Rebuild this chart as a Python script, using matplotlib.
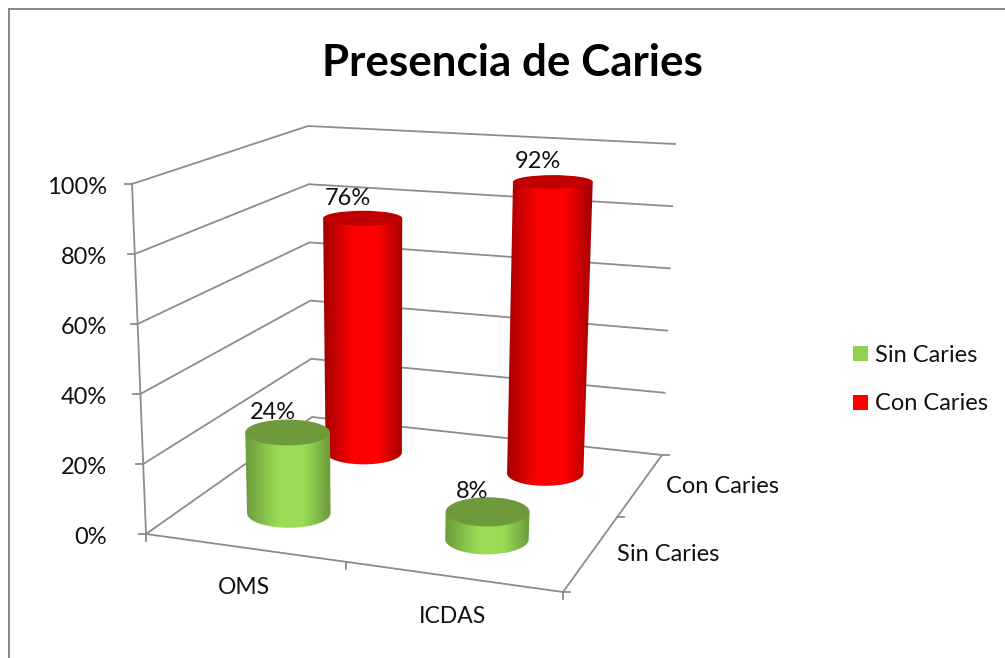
import matplotlib
matplotlib.use('Agg')
import matplotlib.pyplot as plt
from matplotlib.patches import Polygon, Ellipse, Rectangle
from matplotlib.colors import LinearSegmentedColormap
import numpy as np

categories = ['OMS', 'ICDAS']
series = ['Sin Caries', 'Con Caries']
sin_caries = [24, 8]
con_caries = [76, 92]
pct_ticks = [0, 20, 40, 60, 80, 100]

plt.rcParams['font.family'] = ['Lato', 'DejaVu Sans']

GRID = '#8c8c8c'
TEXT = '#111111'
COLORS = {
    'Sin Caries': dict(legend='#92D050', top='#6F9A3C', edge='#6C9B3C', mid='#9ADB55'),
    'Con Caries': dict(legend='#FF0000', top='#C00000', edge='#A00000', mid='#FF0000'),
}

# corners of the 3D box in pixels: (x, depth, height) -> screen
FL0, FR0, BL0, BR0 = map(np.array, [(146, 534), (563, 592), (312, 417), (662, 455)])
FL1, FR1, BL1, BR1 = map(np.array, [(132, 184), (578, 232), (308, 126), (675, 144)])


def project(x, y, pct):
    z = pct / 100
    low = (1 - y) * ((1 - x) * FL0 + x * FR0) + y * ((1 - x) * BL0 + x * BR0)
    high = (1 - y) * ((1 - x) * FL1 + x * FR1) + y * ((1 - x) * BL1 + x * BR1)
    return (1 - z) * low + z * high


def half_width(x, y, pct):
    return 0.104 * np.linalg.norm(project(1, y, pct) - project(0, y, pct))


def flatness(py):
    # ellipses get flatter nearer to eye level
    return 0.17 + (py - 183) * 0.00054


def draw_cylinder(ax, x, y, pct, colors, order):
    bot = project(x, y, 0)
    top = project(x, y, pct)
    wb, wt = half_width(x, y, 0), half_width(x, y, pct)
    hb, ht = wb * flatness(bot[1]), wt * flatness(top[1])

    t = np.linspace(0, np.pi, 40)
    lower = np.column_stack([bot[0] + wb * np.cos(t), bot[1] + hb * np.sin(t)])
    upper = np.array([[top[0] - wt, top[1]], [top[0] + wt, top[1]]])
    outline = np.vstack([upper[1:], lower[0:], upper[:1]])
    body = Polygon(outline, closed=True, transform=ax.transData, facecolor='none', edgecolor='none')
    ax.add_patch(body)

    cmap = LinearSegmentedColormap.from_list(
        'cyl', [(0, colors['edge']), (0.38, colors['mid']), (0.68, colors['mid']), (1, colors['edge'])])
    grad = np.linspace(0, 1, 256).reshape(1, -1)
    w = max(wb, wt)
    left = min(bot[0], top[0]) - w
    right = max(bot[0], top[0]) + w
    im = ax.imshow(grad, cmap=cmap, extent=(left, right, bot[1] + hb + 1, top[1] - 1),
                   aspect='auto', zorder=order, interpolation='bilinear')
    im.set_clip_path(body)

    ax.add_patch(Ellipse(top, 2 * wt, 2 * ht, facecolor=colors['top'], edgecolor='none', zorder=order + 0.1))


fig = plt.figure(figsize=(10.05, 6.58), dpi=100)
ax = fig.add_axes([0, 0, 1, 1])

# walls and gridlines
for p in pct_ticks:
    pts = np.array([project(0, 0, p), project(0, 1, p), project(1, 1, p)])
    ax.plot(pts[:, 0], pts[:, 1], color=GRID, lw=1.3, zorder=1)
    tick = project(0, 0, p)
    ax.plot([tick[0] - 7, tick[0]], [tick[1], tick[1]], color=GRID, lw=1.3, zorder=1)
    ax.text(107, tick[1] + 3, f'{p}%', ha='right', va='center', fontsize=17, color=TEXT, zorder=5)

edges = [project(0, 0, 0), project(0, 0, 100)]
ax.plot(*np.array(edges).T, color=GRID, lw=1.3, zorder=1)
edges = [project(0, 0, 0), project(1, 0, 0), project(1, 1, 0)]
ax.plot(*np.array(edges).T, color=GRID, lw=1.3, zorder=1)

for pos in [0, 0.48, 1]:
    a = project(pos, 0, 0)
    ax.plot([a[0], a[0]], [a[1], a[1] + 7], color=GRID, lw=1.3, zorder=1)
for pos in [0, 0.55, 1]:
    b = project(1, pos, 0)
    ax.plot([b[0], b[0] + 7], [b[1], b[1]], color=GRID, lw=1.3, zorder=1)

x_pos = [0.24, 0.738]
y_pos = [0.285, 0.785]

# back row first so the front row covers it
for j in [1, 0]:
    name = series[j]
    values = [sin_caries, con_caries][j]
    for i, v in enumerate(values):
        draw_cylinder(ax, x_pos[i], y_pos[j], v, COLORS[name], 2 + (1 - j))
        top = project(x_pos[i], y_pos[j], v)
        ax.text(top[0] - 15, top[1] - 20, f'{v}%', ha='center', va='center',
                fontsize=17, color=TEXT, zorder=6)

for i, cat in enumerate(categories):
    p = project(i * 0.5 + 0.25, 0, 0)
    ax.text(p[0] - 6, p[1] + 39, cat, ha='center', va='center', fontsize=16.5, color=TEXT)

for j, name in enumerate(series):
    p = project(1, j * 0.5 + 0.25, 0)
    ax.text(p[0] + 29, p[1] - 3, name, ha='left', va='center', fontsize=17, color=TEXT)

ax.text(512, 63, 'Presencia de Caries', ha='center', va='center', fontsize=31.7,
        fontweight='bold', color='black')

# legend
for name, ly in zip(series, [354, 402.5]):
    ax.add_patch(Rectangle((853, ly - 8), 15, 15, facecolor=COLORS[name]['legend'], edgecolor='none'))
    ax.text(875, ly + 1, name, ha='left', va='center', fontsize=17, color=TEXT)

# chart area border, runs off the right and bottom
ax.plot([9, 9], [658, 9], color='#868686', lw=1.4, zorder=7)
ax.plot([9, 1005], [9, 9], color='#868686', lw=1.4, zorder=7)

ax.set_xlim(0, 1005)
ax.set_ylim(658, 0)
ax.axis('off')

fig.savefig('out.png', dpi=100)
